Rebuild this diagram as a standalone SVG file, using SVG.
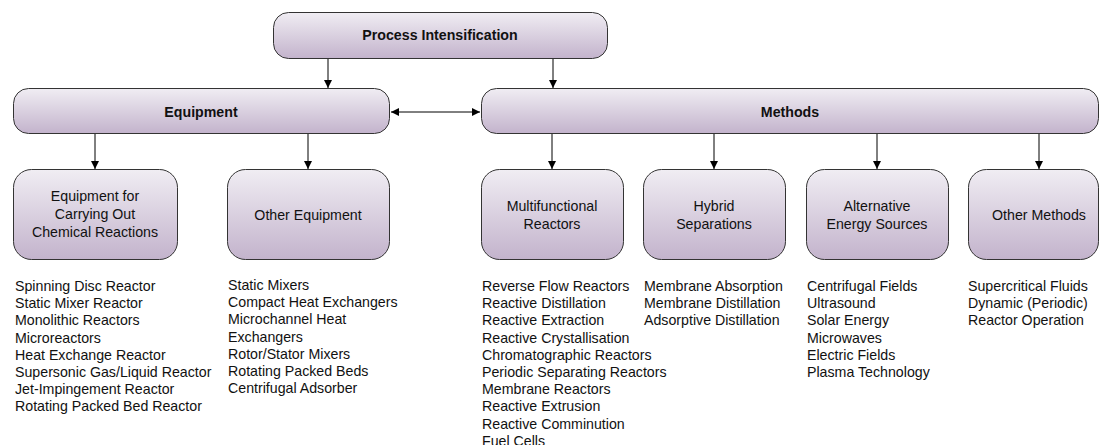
<svg xmlns="http://www.w3.org/2000/svg" width="1100" height="445" viewBox="0 0 1100 445">
<defs>
<linearGradient id="g" x1="0" y1="0" x2="0" y2="1">
<stop offset="0" stop-color="#f0edf3"/>
<stop offset="1" stop-color="#c3b3cc"/>
</linearGradient>
<marker id="ah" viewBox="0 0 10 10" refX="10" refY="5" markerWidth="8" markerHeight="8" markerUnits="userSpaceOnUse" orient="auto-start-reverse">
<path d="M0,0 L10,5 L0,10 z" fill="#000"/>
</marker>
<style>
.box{fill:url(#g);stroke:#333;stroke-width:1}
.t{font-family:"Liberation Sans",Arial,sans-serif;font-size:14.2px;fill:#111}
.b{font-weight:bold;text-anchor:middle}
.c{text-anchor:middle}
.e{stroke:#000;stroke-width:1;fill:none;marker-end:url(#ah)}
</style>
</defs>
<rect width="1100" height="445" fill="#fff"/>
<g id="connectors">
<line class="e" x1="328" y1="58" x2="328" y2="88"/>
<line class="e" x1="553" y1="58" x2="553" y2="88"/>
<line class="e" x1="391" y1="112" x2="480" y2="112" style="marker-start:url(#ah)"/>
<line class="e" x1="95" y1="134" x2="95" y2="169"/>
<line class="e" x1="308" y1="134" x2="308" y2="169"/>
<line class="e" x1="552" y1="134" x2="552" y2="169"/>
<line class="e" x1="714" y1="134" x2="714" y2="169"/>
<line class="e" x1="877" y1="134" x2="877" y2="169"/>
<line class="e" x1="1039" y1="134" x2="1039" y2="169"/>
</g>
<g id="n-pi"><rect class="box" x="273.5" y="12.5" width="334" height="46" rx="15"/><text class="t b" x="440" y="40">Process Intensification</text></g>
<g id="n-equipment"><rect class="box" x="13.5" y="88.5" width="376" height="45" rx="15"/><text class="t b" x="201" y="117">Equipment</text></g>
<g id="n-methods"><rect class="box" x="481.5" y="88.5" width="617" height="45" rx="15"/><text class="t b" x="790" y="117">Methods</text></g>
<g id="n-eqchem"><rect class="box" x="13.5" y="169.5" width="164" height="90" rx="18"/><text class="t c" x="95" y="201">Equipment for</text><text class="t c" x="95" y="219">Carrying Out</text><text class="t c" x="95" y="237">Chemical Reactions</text></g>
<g id="n-othereq"><rect class="box" x="227.5" y="169.5" width="162" height="90" rx="18"/><text class="t c" x="308" y="220">Other Equipment</text></g>
<g id="n-multi"><rect class="box" x="481.5" y="169.5" width="142" height="90" rx="18"/><text class="t c" x="552" y="211">Multifunctional</text><text class="t c" x="552" y="229">Reactors</text></g>
<g id="n-hybrid"><rect class="box" x="643.5" y="169.5" width="142" height="90" rx="18"/><text class="t c" x="714" y="211">Hybrid</text><text class="t c" x="714" y="229">Separations</text></g>
<g id="n-alt"><rect class="box" x="806.5" y="169.5" width="142" height="90" rx="18"/><text class="t c" x="877" y="211">Alternative</text><text class="t c" x="877" y="229">Energy Sources</text></g>
<g id="n-othermeth"><rect class="box" x="968.5" y="169.5" width="130" height="90" rx="18"/><text class="t c" x="1039" y="220">Other Methods</text></g>
<g id="lists">
<text class="t" x="15" y="291"><tspan x="15">Spinning Disc Reactor</tspan><tspan x="15" dy="17.2">Static Mixer Reactor</tspan><tspan x="15" dy="17.2">Monolithic Reactors</tspan><tspan x="15" dy="17.2">Microreactors</tspan><tspan x="15" dy="17.2">Heat Exchange Reactor</tspan><tspan x="15" dy="17.2">Supersonic Gas/Liquid Reactor</tspan><tspan x="15" dy="17.2">Jet-Impingement Reactor</tspan><tspan x="15" dy="17.2">Rotating Packed Bed Reactor</tspan></text>
<text class="t" x="228" y="290"><tspan x="228">Static Mixers</tspan><tspan x="228" dy="17.2">Compact Heat Exchangers</tspan><tspan x="228" dy="17.2">Microchannel Heat</tspan><tspan x="228" dy="17.2">Exchangers</tspan><tspan x="228" dy="17.2">Rotor/Stator Mixers</tspan><tspan x="228" dy="17.2">Rotating Packed Beds</tspan><tspan x="228" dy="17.2">Centrifugal Adsorber</tspan></text>
<text class="t" x="482" y="291"><tspan x="482">Reverse Flow Reactors</tspan><tspan x="482" dy="17.2">Reactive Distillation</tspan><tspan x="482" dy="17.2">Reactive Extraction</tspan><tspan x="482" dy="17.2">Reactive Crystallisation</tspan><tspan x="482" dy="17.2">Chromatographic Reactors</tspan><tspan x="482" dy="17.2">Periodic Separating Reactors</tspan><tspan x="482" dy="17.2">Membrane Reactors</tspan><tspan x="482" dy="17.2">Reactive Extrusion</tspan><tspan x="482" dy="17.2">Reactive Comminution</tspan><tspan x="482" dy="17.2">Fuel Cells</tspan></text>
<text class="t" x="644" y="291"><tspan x="644">Membrane Absorption</tspan><tspan x="644" dy="17.2">Membrane Distillation</tspan><tspan x="644" dy="17.2">Adsorptive Distillation</tspan></text>
<text class="t" x="807" y="291"><tspan x="807">Centrifugal Fields</tspan><tspan x="807" dy="17.2">Ultrasound</tspan><tspan x="807" dy="17.2">Solar Energy</tspan><tspan x="807" dy="17.2">Microwaves</tspan><tspan x="807" dy="17.2">Electric Fields</tspan><tspan x="807" dy="17.2">Plasma Technology</tspan></text>
<text class="t" x="968" y="291"><tspan x="968">Supercritical Fluids</tspan><tspan x="968" dy="17.2">Dynamic (Periodic)</tspan><tspan x="968" dy="17.2">Reactor Operation</tspan></text>
</g>
</svg>
